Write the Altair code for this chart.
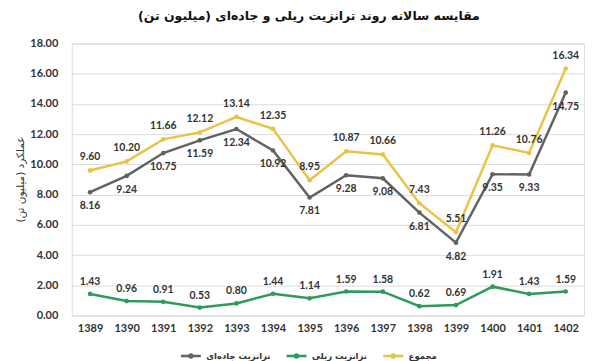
import altair as alt
import pandas as pd

years = ["1389", "1390", "1391", "1392", "1393", "1394", "1395",
         "1396", "1397", "1398", "1399", "1400", "1401", "1402"]
road = [8.16, 9.24, 10.75, 11.59, 12.34, 10.92, 7.81, 9.28, 9.08, 6.81, 4.82, 9.35, 9.33, 14.75]
rail = [1.43, 0.96, 0.91, 0.53, 0.80, 1.44, 1.14, 1.59, 1.58, 0.62, 0.69, 1.91, 1.43, 1.59]
total = [9.60, 10.20, 11.66, 12.12, 13.14, 12.35, 8.95, 10.87, 10.66, 7.43, 5.51, 11.26, 10.76, 16.34]

series_names = ["ترانزیت جاده\u200cای", "ترانزیت ریلی", "مجموع"]
colors = ["#626262", "#2e9a5c", "#e8c445"]
title_text = "مقایسه سالانه روند ترانزیت ریلی و جاده\u200cای (میلیون تن)"
y_title = "عملکرد (میلیون تن)"

rows = []
for name, vals in zip(series_names, [road, rail, total]):
    for yr, v in zip(years, vals):
        rows.append({"year": yr, "value": v, "series": name})
df = pd.DataFrame(rows)

PERSIAN = "DejaVu Sans"
NUM = "Lato"

x = alt.X("year:O", sort=years,
          scale=alt.Scale(type="point", padding=0.5),
          axis=alt.Axis(title=None, labelAngle=0, grid=False, domain=False, ticks=False,
                        labelFont=NUM, labelFontSize=11, labelFontWeight="bold",
                        labelColor="#333333", labelPadding=7))
y = alt.Y("value:Q",
          scale=alt.Scale(domain=[0, 18]),
          axis=alt.Axis(title=y_title, values=list(range(0, 19, 2)), format=".2f",
                        domain=False, ticks=False, gridColor="#dcdcdc", gridWidth=1,
                        labelFont=NUM, labelFontSize=11, labelFontWeight="bold",
                        labelColor="#333333", labelPadding=14,
                        titleFont=PERSIAN, titleFontSize=10.5, titleFontWeight="normal",
                        titleColor="#333333", titleX=-51, titleY=136,
                        titleAngle=270, titleAlign="center", titleBaseline="middle"))

base = alt.Chart(df)

lines = base.mark_line(strokeWidth=2.5,
                       point=alt.OverlayMarkDef(size=22, filled=True)).encode(
    x=x, y=y,
    color=alt.Color("series:N",
                    scale=alt.Scale(domain=series_names, range=colors),
                    legend=alt.Legend(title=None, orient="none", direction="horizontal",
                                      legendX=108, legendY=302,
                                      symbolType="M-1,0H1M-0.15,0A0.15,0.15,0,1,0,0.15,0A0.15,0.15,0,1,0,-0.15,0",
                                      symbolSize=400, symbolStrokeWidth=2.5,
                                      labelFont=PERSIAN, labelFontSize=8.5, labelFontWeight="bold",
                                      labelColor="#333333", labelOffset=4, columnPadding=10))
)

offsets = {series_names[0]: 14, series_names[1]: -12, series_names[2]: -13}
texts = []
for name in series_names:
    texts.append(
        base.transform_filter(alt.datum.series == name).mark_text(
            dy=offsets[name], font=NUM, fontSize=10.5, fontWeight="bold", color="#333333"
        ).encode(x=x, y=y, text=alt.Text("value:Q", format=".2f"))
    )

chart = alt.layer(lines, *texts).properties(
    width=514, height=273,
    padding={"left": 64, "top": 35, "right": 5, "bottom": 45},
    autosize=alt.AutoSizeParams(type="none"),
    title=alt.Title(title_text, font=PERSIAN, fontSize=12.5, fontWeight="bold",
                    color="#111111", anchor="middle", dx=-19, offset=15),
).configure_view(stroke=None).configure(background="white")

chart.save("out.html", embed_options={"renderer": "svg", "actions": False})
